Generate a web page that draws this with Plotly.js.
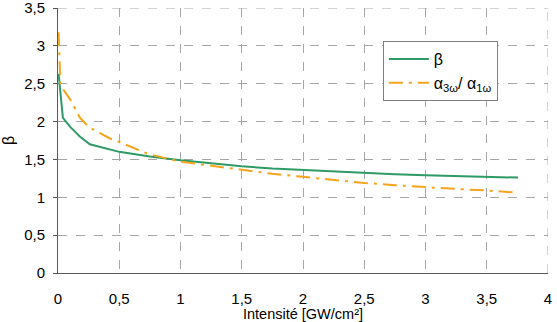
<!DOCTYPE html>
<html>
<head>
<meta charset="utf-8">
<script src="https://cdn.plot.ly/plotly-3.0.1.min.js"></script>
<style>
  html, body { margin: 0; padding: 0; background: #fff; }
  #chart { width: 557px; height: 322px; }
</style>
</head>
<body>
<div id="chart"></div>
<script>
// Intensity in GW/cm²
const intensity = [0.005, 0.04, 0.1, 0.18, 0.26, 0.4, 0.5, 0.75, 1.0, 1.25, 1.5, 1.75, 2.0, 2.25, 2.5, 2.75, 3.0, 3.25, 3.5, 3.755];
// beta
const beta = [2.63, 2.05, 1.93, 1.80, 1.70, 1.64, 1.60, 1.54, 1.49, 1.45, 1.41, 1.38, 1.36, 1.34, 1.32, 1.305, 1.29, 1.28, 1.27, 1.26];

const intensityRatio = [0.005, 0.02, 0.1, 0.18, 0.25, 0.42, 0.5, 0.74, 1.0, 1.25, 1.5, 1.75, 2.0, 2.25, 2.5, 2.75, 3.0, 3.25, 3.5, 3.755];
// alpha_3w / alpha_1w
const ratio = [3.18, 2.48, 2.29, 2.05, 1.93, 1.78, 1.73, 1.57, 1.47, 1.42, 1.36, 1.31, 1.27, 1.23, 1.19, 1.16, 1.13, 1.11, 1.09, 1.06];

const xTicks = [0, 0.5, 1, 1.5, 2, 2.5, 3, 3.5, 4];
const xTickText = ['0', '0,5', '1', '1,5', '2', '2,5', '3', '3,5', '4'];
const yTicks = [0, 0.5, 1, 1.5, 2, 2.5, 3, 3.5];
const yTickText = ['0', '0,5', '1', '1,5', '2', '2,5', '3', '3,5'];

const gridColor = '#a6a6a6';

const traces = [
  {
    x: intensity, y: beta, type: 'scatter', mode: 'lines', name: 'β',
    line: { color: '#2f9a66', width: 2 }
  },
  {
    x: intensityRatio, y: ratio, type: 'scatter', mode: 'lines',
    name: 'α<sub>3ω</sub>/ α<sub>1ω</sub>',
    line: { color: '#f5a41c', width: 2, dash: '14px,6px,3px,6px' }
  }
];

// gridlines on the far edges (Plotly skips grid lines at the plot border)
const xMax = xTicks[xTicks.length - 1];
const yMax = yTicks[yTicks.length - 1];
const edgeGrid = [
  { type: 'line', xref: 'paper', yref: 'y', x0: 0, x1: 1, y0: yMax, y1: yMax,
    line: { color: gridColor, width: 1, dash: 'dash' }, layer: 'below' },
  { type: 'line', xref: 'x', yref: 'paper', x0: xMax, x1: xMax, y0: 0, y1: 1,
    line: { color: gridColor, width: 1, dash: 'dash' }, layer: 'below' }
];

const gridStyle = { gridcolor: gridColor, griddash: 'dash', gridwidth: 1 };

const layout = {
  width: 557, height: 322,
  margin: { l: 58, r: 9, t: 8, b: 49 },
  paper_bgcolor: '#fff', plot_bgcolor: '#fff',
  font: { family: 'Liberation Sans, Arial, sans-serif', size: 15, color: '#000' },
  showlegend: true,
  legend: {
    x: 0.663, y: 0.875, xanchor: 'left', yanchor: 'top',
    bgcolor: '#fff', bordercolor: '#808080', borderwidth: 1,
    font: { size: 16 }, itemwidth: 40, tracegroupgap: 4, entrywidth: 120
  },
  shapes: edgeGrid,
  xaxis: Object.assign({
    range: [0, xMax], tickvals: xTicks, ticktext: xTickText,
    showline: true, linecolor: '#595959', linewidth: 1,
    ticks: '', ticklabelstandoff: 12, ticklabeloverflow: 'allow', zeroline: false,
    title: { text: 'Intensité [GW/cm²]', font: { size: 14.5 }, standoff: 2 }
  }, gridStyle),
  yaxis: Object.assign({
    range: [0, yMax], tickvals: yTicks, ticktext: yTickText,
    showline: true, linecolor: '#595959', linewidth: 1,
    ticks: 'outside', ticklen: 4, tickcolor: '#595959', ticklabelstandoff: 5,
    ticklabeloverflow: 'allow', zeroline: false,
    title: { text: 'β', font: { size: 16 }, standoff: 8 }
  }, gridStyle)
};

Plotly.newPlot('chart', traces, layout, { staticPlot: true, displayModeBar: false });
</script>
</body>
</html>
